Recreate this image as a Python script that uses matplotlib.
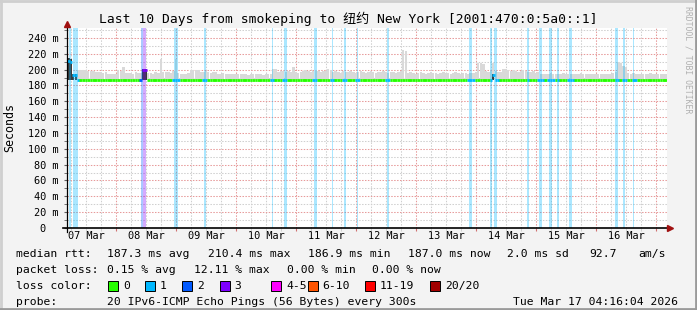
##smokeping style graph - last 10 days to New York
import datetime as dt
import matplotlib
matplotlib.use("Agg")
import matplotlib.pyplot as plt
import matplotlib.dates as mdates
from matplotlib.patches import Rectangle
from matplotlib.lines import Line2D
from matplotlib.ticker import MultipleLocator, FuncFormatter, NullFormatter

##time window
t_end = dt.datetime(2026, 3, 17, 4, 16, 4)
t_start = t_end - dt.timedelta(days=10)

##hourly smoke top (ms), 240 values
smoke_top = [
    215, 214, 195, 194, 200, 200, 199, 200, 198, 198,
    198, 197, 197, 197, 196, 197, 195, 195, 194, 195,
    199, 198, 203, 196, 196, 196, 195, 197, 196, 196,
    201, 201, 196, 196, 195, 197, 196, 213, 197, 197,
    197, 196, 198, 213, 196, 195, 195, 195, 196, 200,
    200, 199, 200, 197, 197, 198, 197, 196, 197, 197,
    195, 195, 196, 195, 194, 195, 195, 194, 194, 195,
    194, 194, 193, 194, 194, 195, 194, 194, 193, 194,
    194, 194, 201, 201, 197, 198, 198, 197, 198, 197,
    203, 197, 196, 197, 198, 199, 198, 197, 198, 199,
    198, 197, 198, 198, 201, 199, 197, 198, 197, 196,
    198, 197, 197, 198, 197, 196, 197, 198, 197, 196,
    197, 198, 197, 196, 197, 197, 198, 197, 196, 197,
    197, 196, 197, 198, 225, 224, 196, 197, 196, 195,
    196, 197, 196, 195, 196, 197, 196, 196, 195, 196,
    197, 196, 196, 195, 196, 197, 196, 195, 196, 196,
    195, 196, 196, 197, 208, 208, 207, 198, 197, 198,
    208, 198, 197, 197, 201, 201, 199, 198, 199, 198,
    197, 198, 199, 198, 197, 197, 198, 196, 197, 195,
    195, 194, 195, 196, 195, 194, 195, 195, 196, 195,
    194, 195, 195, 194, 195, 196, 195, 194, 195, 195,
    194, 195, 194, 195, 194, 195, 194, 195, 196, 197,
    210, 209, 205, 203, 196, 195, 196, 195, 194, 195,
    195, 194, 195, 196, 195, 194, 195, 195, 194, 195,
]
smoke_bottom = 186.4

##median rtt
median_base = 187.2
median_hours = [0, 1, 2, 3, 30, 31, 170]
median_vals = [211, 210, 193, 193, 200, 200, 193]

##darker smoke (few pings)
dark_hours = [0, 1, 2, 3, 30, 31, 170]
dark_tops = [215, 213, 194, 194, 201, 201, 194]

##loss events (hours after start, length in hours, lost pings)
loss_start = [0.8, 2.5, 29.7, 30.5, 42.7, 54.7, 81.9, 86.8, 98.8, 105.9, 110.9, 115.9,
              127.9, 160.8, 169.1, 170.8, 184.1, 188.9, 192.9, 196.1, 200.9, 219.0, 222.3, 226.3]
loss_len = [0.8, 1.8, 0.8, 1.2, 1.7, 1.0, 0.7, 1.1, 1.1, 0.7, 0.9, 0.6,
            0.8, 1.3, 1.0, 1.3, 0.8, 1.3, 1.3, 0.8, 1.3, 1.3, 0.9, 0.7]
loss_cnt = [1, 1, 2, 3, 1, 1, 1, 1, 1, 1, 1, 1,
            1, 1, 1, 1, 1, 1, 1, 1, 1, 1, 1, 1]

loss_names = ["0", "1", "2", "3", "4-5", "6-10", "11-19", "20/20"]
loss_colors = ["#26ff00", "#00b8ff", "#0059ff", "#7e00ff", "#ff00ff", "#ff5500", "#ff0000", "#a10000"]

##legend numbers
rtt_avg, rtt_max, rtt_min, rtt_now, rtt_sd, rtt_ams = 187.3, 210.4, 186.9, 187.0, 2.0, 92.7
loss_avg, loss_max, loss_min, loss_now = 0.15, 12.11, 0.00, 0.00

mono = "DejaVu Sans Mono"
W, H = 697, 310

fig = plt.figure(figsize=(W / 100, H / 100), dpi=100, facecolor="#f3f3f3")
ax = fig.add_axes([67 / W, 1 - 228 / H, 600 / W, 200 / H])
ax.set_facecolor("white")

t0 = mdates.date2num(t_start)
hours = list(range(len(smoke_top)))
xs = [t0 + h / 24 for h in hours]

##smoke
ax.bar(xs, [v - smoke_bottom for v in smoke_top], bottom=smoke_bottom, width=1 / 24,
       align="edge", color="#d9d9d9", linewidth=0, zorder=2)
ax.bar([t0 + h / 24 for h in dark_hours], [v - smoke_bottom for v in dark_tops],
       bottom=smoke_bottom, width=1 / 24, align="edge", color="#3c3c3c", linewidth=0, zorder=2.5)

##loss bands
for s, l, c in zip(loss_start, loss_len, loss_cnt):
    ax.axvspan(t0 + s / 24, t0 + (s + l) / 24, color=loss_colors[c], alpha=0.33, lw=0, zorder=3)

##median line, coloured by loss of the hour
med = [median_base] * len(hours)
for h, v in zip(median_hours, median_vals):
    med[h] = v
hour_loss = [0] * len(hours)
for s, l, c in zip(loss_start, loss_len, loss_cnt):
    for h in range(int(s), int(s + l) + 1):
        if h < len(hours):
            hour_loss[h] = max(hour_loss[h], c)
ax.hlines(med, xs, [x + 1 / 24 for x in xs], colors=[loss_colors[c] for c in hour_loss],
          lw=2.0, zorder=4)

ax.set_xlim(t0, t0 + 10)
ax.set_ylim(0, 252.6)

##grid
ax.xaxis_date()
ax.xaxis.set_major_locator(mdates.DayLocator())
ax.xaxis.set_minor_locator(mdates.HourLocator(byhour=[6, 12, 18]))
ax.xaxis.set_major_formatter(NullFormatter())
ax.yaxis.set_major_locator(MultipleLocator(20))
ax.yaxis.set_minor_locator(MultipleLocator(10))
ax.yaxis.set_major_formatter(FuncFormatter(lambda v, p: f"{int(v)} m" if v else "0  "))
ax.grid(which="major", color="#e79a9a", lw=0.75, ls=(0, (1.4, 1.4)), zorder=1)
ax.grid(which="minor", color="#cfcfcf", lw=0.75, ls=(0, (1.4, 1.4)), zorder=1)
ax.set_axisbelow(True)
ax.tick_params(axis="x", which="major", length=2.5, color="#d07070", labelbottom=False)
ax.tick_params(axis="x", which="minor", length=2, color="#c8c8c8")
ax.tick_params(axis="y", which="both", length=2, color="#606060", pad=4)
ax.tick_params(axis="y", labelsize=7.4)
for lab in ax.get_yticklabels():
    lab.set_family(mono)
for sp in ax.spines.values():
    sp.set_visible(False)

##day labels at noon
sec = ax.secondary_xaxis("bottom")
sec.xaxis.set_major_locator(mdates.HourLocator(byhour=[12]))
sec.xaxis.set_major_formatter(mdates.DateFormatter("%d %b"))
sec.tick_params(length=0, pad=2, labelsize=7.4)
for lab in sec.get_xticklabels():
    lab.set_family(mono)
sec.spines["bottom"].set_visible(False)

##axis lines with arrows
ax.plot([0, 0], [-0.02, 1.02], transform=ax.transAxes, color="black", lw=0.9, clip_on=False, zorder=6)
ax.plot([-0.007, 1.0], [0, 0], transform=ax.transAxes, color="black", lw=1.2, clip_on=False, zorder=6)
ax.plot([0], [1.02], marker="^", ms=5, color="#a01010", transform=ax.transAxes, clip_on=False, zorder=7)
ax.plot([1.005], [0], marker=">", ms=5, color="#a01010", transform=ax.transAxes, clip_on=False, zorder=7)

##titles
fig.text(348 / W, 1 - 19 / H, "Last 10 Days from smokeping to 纽约 New York [2001:470:0:5a0::1]",
         ha="center", va="center", fontsize=9.4, family=[mono, "Noto Sans CJK SC"])
fig.text(10 / W, 1 - 128 / H, "Seconds", rotation=90, ha="center", va="center",
         fontsize=8.4, family=mono)
fig.text(688 / W, 1 - 60 / H, "RRDTOOL / TOBI OETIKER", rotation=-90, ha="center", va="center",
         fontsize=5.9, family=mono, color="#b0b0b0")

##legend
def put(x, y, s):
    fig.text(x / W, 1 - y / H, s, ha="left", va="center", fontsize=8.2, family=mono)

put(16, 254, "median rtt:")
put(107, 254, f"{rtt_avg:.1f} ms avg")
put(207.6, 254, f"{rtt_max:.1f} ms max")
put(308, 254, f"{rtt_min:.1f} ms min")
put(408, 254, f"{rtt_now:.1f} ms now")
put(506.7, 254, f"{rtt_sd:.1f} ms sd")
put(589, 254, f"{rtt_ams:.1f}")
put(638, 254, "am/s")

put(16, 270, "packet loss:")
put(107, 270, f"{loss_avg:.2f} % avg")
put(194, 270, f"{loss_max:.2f} % max")
put(287, 270, f"{loss_min:.2f} % min")
put(372.5, 270, f"{loss_now:.2f} % now")

put(16, 286, "loss color:")
box_x = [108, 145, 182, 219.6, 271, 307.6, 365, 430]
for bx, name, col in zip(box_x, loss_names, loss_colors):
    fig.add_artist(Rectangle((bx / W, 1 - 291 / H), 10 / W, 10 / H, transform=fig.transFigure,
                             facecolor=col, edgecolor="black", lw=0.7))
    put(bx + 15, 286, name)

put(16, 302, "probe:")
put(107, 302, "20 IPv6-ICMP Echo Pings (56 Bytes) every 300s")
put(513, 302, t_end.strftime("%a %b %d %H:%M:%S %Y"))

##frame
fig.add_artist(Line2D([0, 1], [1 - 1 / H, 1 - 1 / H], transform=fig.transFigure, color="#cfcfcf", lw=2))
fig.add_artist(Line2D([1 / W, 1 / W], [0, 1], transform=fig.transFigure, color="#cfcfcf", lw=2))
fig.add_artist(Line2D([0, 1], [1 / H, 1 / H], transform=fig.transFigure, color="#9a9a9a", lw=2))
fig.add_artist(Line2D([1 - 1 / W, 1 - 1 / W], [0, 1], transform=fig.transFigure, color="#9a9a9a", lw=2))

fig.savefig("out.png", dpi=100, facecolor=fig.get_facecolor())
